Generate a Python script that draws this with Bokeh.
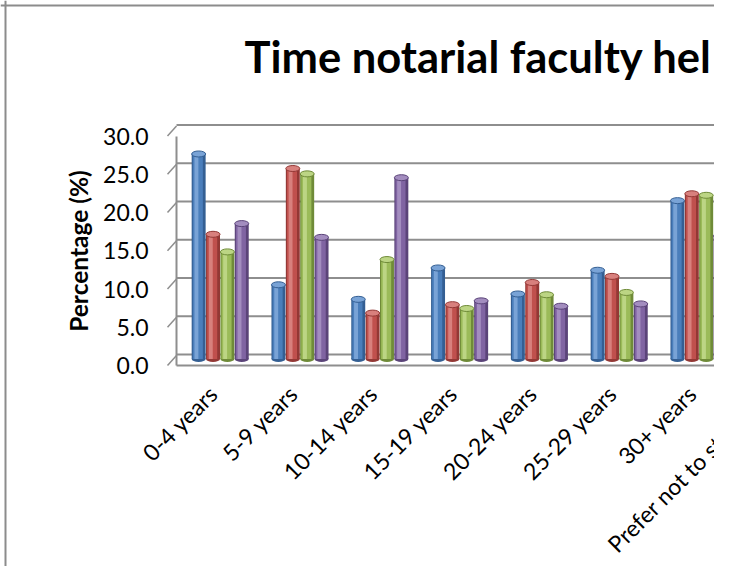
import math
import numpy as np
from bokeh.plotting import figure
from bokeh.models import (Range1d, FixedTicker, LinearAxis, ColumnDataSource,
                          LabelSet, Label, PrintfTickFormatter)
from bokeh.transform import dodge
from bokeh.core.properties import value
from bokeh.embed import file_html
from bokeh.resources import INLINE

# ---------------- data ----------------
categories = ["0-4 years", "5-9 years", "10-14 years", "15-19 years",
              "20-24 years", "25-29 years", "30+ years", "Prefer not to state"]
series_1 = [26.8, 9.7, 7.8, 11.9, 8.5, 11.6, 20.7, 3.0]
series_2 = [16.3, 24.9, 6.0, 7.1, 10.0, 10.8, 21.6, 3.3]
series_3 = [14.0, 24.2, 13.0, 6.6, 8.4, 8.7, 21.4, 3.7]
series_4 = [17.7, 15.9, 23.7, 7.6, 6.9, 7.2, 16.1, 4.9]
y_ticks = [0, 5, 10, 15, 20, 25, 30]
title_text = "Time notarial faculty hel"
y_title = "Percentage (%)"

# ---------------- layout / styling ----------------
W, H = 714, 566
FONT = "Lato"
GRID = "#8e8e8e"
PX_X = 79.8              # pixels per category
PX_Y = 7.65              # pixels per percentage point
X0_PX = 219.7            # screen x of first category
Y0_PX = 358.5            # screen y of 0 % (bar depth)
BACK_SHIFT = -4.5        # back wall is drawn higher
FRONT_SHIFT = 6.5        # front edge is drawn lower
WALL_PX = 176            # screen x of the left wall
series = [series_1, series_2, series_3, series_4]
colors = [  # (edge, body, highlight)
    ("#345f93", "#4a7ebb", "#79a3d6"),
    ("#933835", "#c0504d", "#d8807d"),
    ("#6f8b38", "#9bbb59", "#bcd584"),
    ("#5b4479", "#8064a2", "#a38dbf"),
]
offsets = [-0.27, -0.09, 0.09, 0.27]
bar_w = 0.175


def yr(shift):
    top = (Y0_PX + shift) / PX_Y
    return Range1d((Y0_PX + shift - H) / PX_Y, top)


x_range = Range1d(-X0_PX / PX_X, (W - X0_PX) / PX_X)
WALL_X = (WALL_PX - X0_PX) / PX_X
idx = np.arange(len(categories))

p = figure(width=W, height=H, output_backend="svg", toolbar_location=None, title=None,
           x_range=x_range, y_range=yr(0), x_axis_type=None, y_axis_type=None,
           min_border=0, min_border_left=0, min_border_right=0, min_border_top=0,
           min_border_bottom=0, outline_line_color=None,
           background_fill_color="white", border_fill_color="white")
p.extra_y_ranges = {"back": yr(BACK_SHIFT), "front": yr(FRONT_SHIFT)}

# chart border (left and top)
p.vspan(x=[x_range.start + 5 / PX_X], line_color="#8c8c8c", line_width=2)
p.hspan(y=[p.y_range.end - 5 / PX_Y], line_color="#8c8c8c", line_width=2)

# back-wall gridlines and floor edges
grid_src = ColumnDataSource(dict(y=y_ticks, x0=[WALL_X] * len(y_ticks),
                                 x1=[x_range.end] * len(y_ticks)))
p.segment(x0="x0", x1="x1", y0="y", y1="y", source=grid_src, y_range_name="back",
          line_color=GRID, line_width=2)
p.segment(x0=[WALL_X], x1=[x_range.end], y0=[y_ticks[0]], y1=[y_ticks[0]],
          y_range_name="front", line_color=GRID, line_width=2)
# slanted tick marks joining front edge to back wall
p.segment(x0=[WALL_X - 9 / PX_X] * len(y_ticks), x1=[WALL_X] * len(y_ticks),
          y0=y_ticks, y1=[t + (FRONT_SHIFT - BACK_SHIFT - 1) / PX_Y for t in y_ticks],
          y_range_name="front", line_color=GRID, line_width=1.5)

yaxis = LinearAxis(y_range_name="front", ticker=FixedTicker(ticks=y_ticks),
                   fixed_location=WALL_X, bounds=(y_ticks[0], y_ticks[-1]),
                   formatter=PrintfTickFormatter(format="%.1f"),
                   axis_label=y_title,
                   axis_line_color=GRID, axis_line_width=2,
                   major_tick_line_color=None, major_tick_out=0, major_tick_in=0,
                   minor_tick_line_color=None,
                   major_label_text_font=FONT, major_label_text_font_size="23px",
                   major_label_text_color="black", major_label_standoff=28,
                   axis_label_text_font=FONT, axis_label_text_font_size="24.5px",
                   axis_label_text_font_style="bold", axis_label_text_color="black",
                   axis_label_standoff=7)
p.add_layout(yaxis, "left")

# category labels (rotated 45 degrees, hanging below the floor);
# the last, longest one hangs a little further down-left as in the source
LABEL_Y = (Y0_PX - 389) / PX_Y
n = len(categories)
lab_y = [LABEL_Y] * (n - 1) + [LABEL_Y - 28 / PX_Y]
lab_dx = [-7] * (n - 1) + [-37]
lab = ColumnDataSource(dict(x=idx.astype(float), y=lab_y, dx=lab_dx, text=categories))
p.add_layout(LabelSet(x="x", y="y", text="text", source=lab, angle=math.pi / 4,
                      x_offset="dx", text_align="right", text_baseline="middle",
                      text_font=value(FONT), text_font_size=value("23px"),
                      text_color="black"))

# cylinders
for vals, (edge, body, light), off in zip(series, colors, offsets):
    src = ColumnDataSource(dict(x=idx + off, top=vals, base=[0] * len(vals)))
    p.ellipse(x="x", y="base", width=bar_w, height=6, height_units="screen",
              fill_color=edge, line_color=None, source=src)
    p.vbar(x="x", top="top", bottom=0, width=bar_w, fill_color=edge,
           line_color=None, source=src)
    p.vbar(x=dodge("x", -0.06 * bar_w), top="top", bottom=0, width=0.72 * bar_w,
           fill_color=body, line_color=None, source=src)
    p.vbar(x=dodge("x", -0.16 * bar_w), top="top", bottom=0, width=0.28 * bar_w,
           fill_color=light, line_color=None, source=src)
    p.ellipse(x="x", y="top", width=bar_w, height=6, height_units="screen",
              fill_color=light, line_color=edge, line_width=1, source=src)

# title
p.add_layout(Label(x=(244 - X0_PX) / PX_X, y=(Y0_PX - 55.7) / PX_Y, text=title_text,
                   text_align="left", text_baseline="alphabetic",
                   text_font=FONT, text_font_size="43.5px", text_font_style="bold",
                   text_color="black"))

open("out.html", "w").write(file_html(p, INLINE))
